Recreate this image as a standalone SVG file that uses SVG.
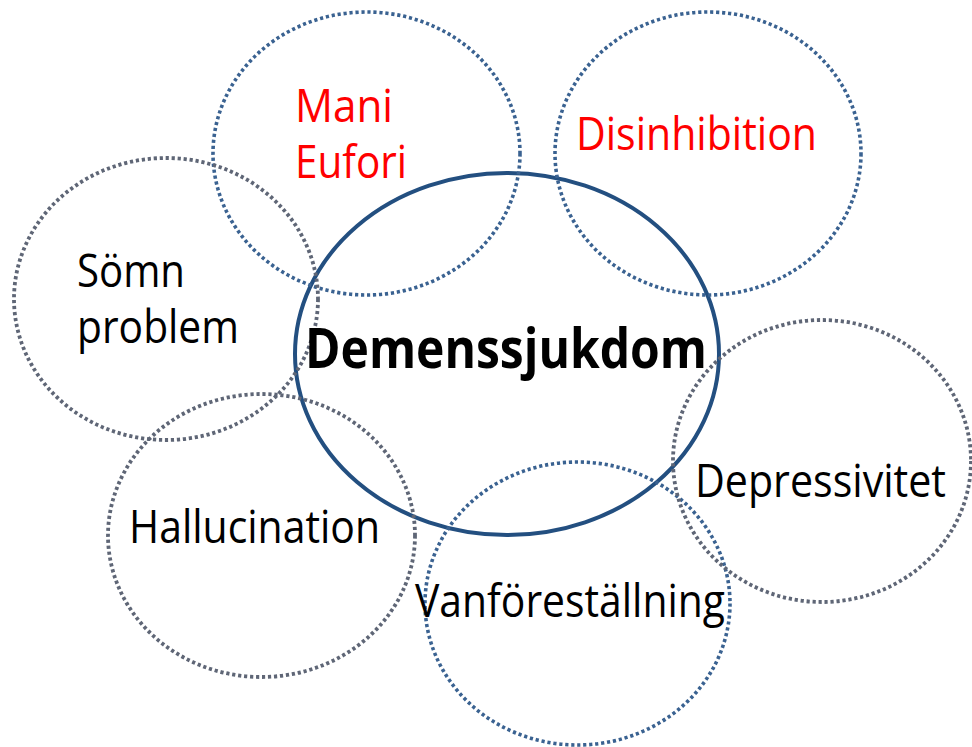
<svg xmlns="http://www.w3.org/2000/svg" width="972" height="747" viewBox="0 0 972 747">
  <defs>
    <filter id="soft" x="-5%" y="-5%" width="110%" height="110%">
      <feGaussianBlur stdDeviation="0.5"/>
    </filter>
  </defs>
  <style>
    .core { fill: none; stroke: #234f80; stroke-width: 4; }
    .ring-blue { fill: none; stroke: #3a6291; stroke-width: 3.6; stroke-dasharray: 3.2 2.8; }
    .ring-grey { fill: none; stroke: #5e6676; stroke-width: 3.8; stroke-dasharray: 3.2 2.8; filter: url(#soft); }
    .lbl { font-family: "Open Sans", "Noto Sans", "DejaVu Sans", sans-serif; font-size: 46px; fill: #000; }
    .red { fill: #ff0000; }
    .title { font-family: "Open Sans", "Noto Sans", "DejaVu Sans", sans-serif; font-size: 56px; font-weight: bold; fill: #000; }
  </style>
  <rect width="972" height="747" fill="#ffffff"/>

  <!-- central concept -->
  <g id="demenssjukdom-ring">
    <ellipse class="core" cx="507" cy="354" rx="212" ry="181"/>
  </g>

  <!-- surrounding symptoms -->
  <g id="mani-eufori">
    <ellipse class="ring-blue" cx="366.5" cy="153.5" rx="153.5" ry="141.5"/>
    <text class="lbl red" x="295" y="122" textLength="98" lengthAdjust="spacingAndGlyphs">Mani</text>
    <text class="lbl red" x="295" y="178" textLength="112" lengthAdjust="spacingAndGlyphs">Eufori</text>
  </g>

  <g id="disinhibition">
    <ellipse class="ring-blue" cx="708" cy="153.5" rx="153" ry="141.5"/>
    <text class="lbl red" x="576" y="150" textLength="241" lengthAdjust="spacingAndGlyphs">Disinhibition</text>
  </g>

  <g id="somn-problem">
    <ellipse class="ring-grey" cx="166" cy="299" rx="152" ry="141"/>
    <text class="lbl" x="77" y="287" textLength="108" lengthAdjust="spacingAndGlyphs">Sömn</text>
    <text class="lbl" x="77" y="343" textLength="162" lengthAdjust="spacingAndGlyphs">problem</text>
  </g>

  <g id="hallucination">
    <ellipse class="ring-grey" cx="261.5" cy="535.5" rx="153.5" ry="141.5"/>
    <text class="lbl" x="129" y="543" textLength="251" lengthAdjust="spacingAndGlyphs">Hallucination</text>
  </g>

  <g id="vanforestallning">
    <ellipse class="ring-blue" cx="577.5" cy="603.5" rx="152.5" ry="141.5"/>
    <text class="lbl" x="415" y="617" textLength="310" lengthAdjust="spacingAndGlyphs">Vanföreställning</text>
  </g>

  <g id="depressivitet">
    <ellipse class="ring-grey" cx="822" cy="461" rx="149" ry="141"/>
    <text class="lbl" x="695" y="497" textLength="251" lengthAdjust="spacingAndGlyphs">Depressivitet</text>
  </g>

  <g id="demenssjukdom">
    <text class="title" x="305" y="368" textLength="402" lengthAdjust="spacingAndGlyphs">Demenssjukdom</text>
  </g>
</svg>
